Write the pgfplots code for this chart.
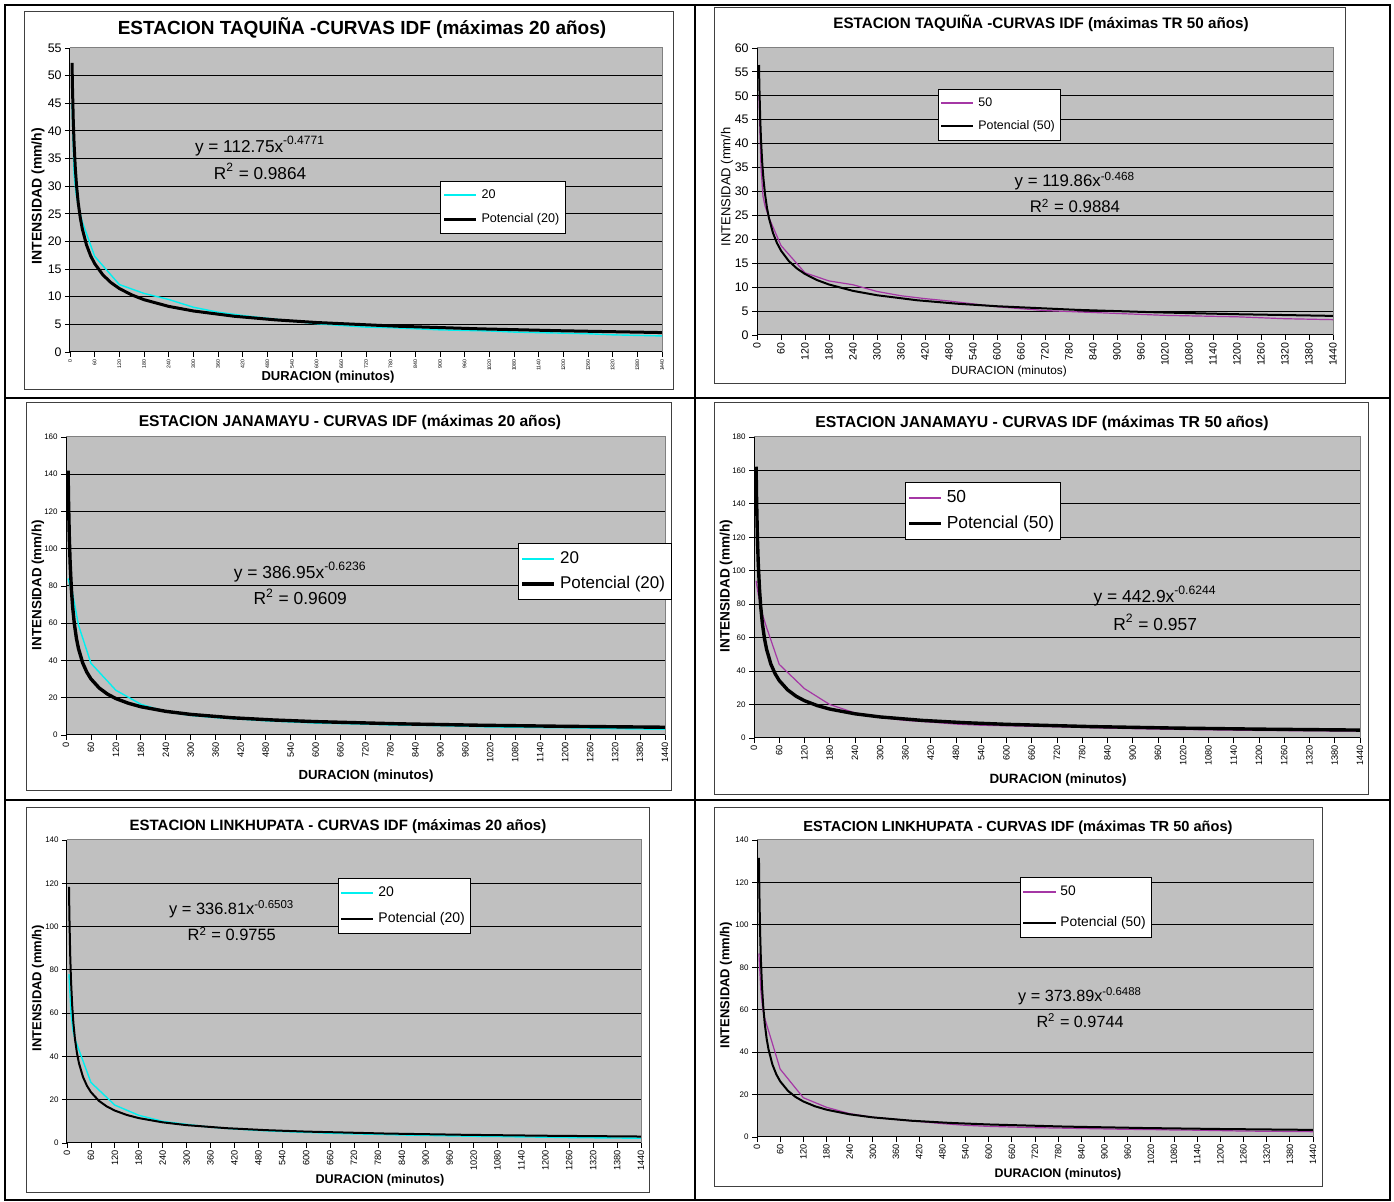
\documentclass[border=0pt]{standalone}
\usepackage{fontspec}
\setmainfont{Liberation Sans}
\usepackage{pgfplots}
\pgfplotsset{compat=1.18}
\definecolor{plotgray}{RGB}{192,192,192}
\definecolor{serieA}{RGB}{0,240,240}
\definecolor{serieB}{RGB}{165,55,165}
\newcommand{\fs}[1]{\fontsize{#1}{#1}\selectfont}
\pgfplotsset{
  idf/.style={
    scale only axis,
    anchor=south west,
    axis background/.style={fill=plotgray},
    axis x line*=bottom, axis y line*=left,
    axis line style={black, line width=0.5pt},
    xmin=0, xmax=1440, ymin=0,
    xtick={0,60,...,1440},
    ymajorgrids, grid style={black, line width=0.5pt},
    tick style={black, line width=0.4pt},
    major tick length=2.5pt,
    tick align=outside,
    /pgf/number format/assume math mode=true,
    /pgf/number format/1000 sep={},
    x tick label style={rotate=90, anchor=east, inner sep=1pt},
    y tick label style={inner sep=1.5pt},
    legend cell align=left,
    legend style={draw=black, fill=white, line width=0.5pt, anchor=north west, inner xsep=1pt, inner ysep=2pt},
    legend image code/.code={\draw[##1] (0pt,0pt) -- (16pt,0pt);},
    clip=false,
  }
}
\begin{document}
\begin{tikzpicture}
\path[use as bounding box] (0,0) rectangle (697pt,601pt);
% table lines
\draw[line width=1pt] (2.5pt,1pt) rectangle (695pt,598.5pt);
\draw[line width=1pt] (347.5pt,1pt) -- (347.5pt,598.5pt);
\draw[line width=1pt] (2.5pt,402pt) -- (695pt,402pt);
\draw[line width=1pt] (2.5pt,201pt) -- (695pt,201pt);
% chart frames
\draw[black!75, line width=0.5pt, fill=white] (12pt,406pt) rectangle (336.5pt,595pt);
\draw[black!75, line width=0.5pt, fill=white] (357pt,409pt) rectangle (672.5pt,597pt);
\draw[black!75, line width=0.5pt, fill=white] (13pt,205.5pt) rectangle (335.5pt,399.5pt);
\draw[black!75, line width=0.5pt, fill=white] (357pt,203.5pt) rectangle (684pt,399.5pt);
\draw[black!75, line width=0.5pt, fill=white] (13pt,4.5pt) rectangle (324.5pt,197pt);
\draw[black!75, line width=0.5pt, fill=white] (357pt,7.5pt) rectangle (661pt,197pt);

%================ Panel 1
\begin{axis}[idf, at={(35pt,425pt)}, width=296pt, height=152pt,
  ymax=55, ytick={0,5,...,55},
  yticklabel style={font=\fs{6.2}},
  xticklabel style={font=\fs{2.6}},
  legend style={at={(0.625,0.5625)}, font=\fs{6.3}, row sep=2pt}]
\addlegendimage{serieA, line width=1pt}
\addlegendentry{20}
\addplot[serieA, line width=0.7pt, forget plot] coordinates {
(5,45) (10,32) (15,28.5) (20,26.5) (30,23.5) (60,17.3) (120,12.2) (180,10.6) (240,9.5) (300,8.1) (360,7.2) (420,6.6) (480,6.1) (540,5.6) (600,5.1) (660,4.8) (720,4.5) (780,4.4) (840,4.2) (900,4.0) (960,3.9) (1020,3.8) (1080,3.6) (1140,3.5) (1200,3.4) (1260,3.3) (1320,3.1) (1380,3.0) (1440,2.9)};
\addplot[black, line width=1.5pt] coordinates {
(5,52.32) (6,47.95) (8,41.81) (10,37.58) (13,33.16) (16,30.04) (20,27.00) (25,24.28) (30,22.25) (40,19.40) (50,17.44) (60,15.99) (80,13.94) (100,12.53) (120,11.48) (150,10.33) (180,9.46) (240,8.25) (300,7.42) (400,6.46) (500,5.81) (600,5.33) (800,4.65) (1000,4.18) (1200,3.83) (1440,3.51)};
\addlegendentry{Potencial (20)}
\draw[gray, line width=0.5pt] (rel axis cs:0,1) -- (rel axis cs:1,1) -- (rel axis cs:1,0);
\node[font=\fs{8.6}] at (rel axis cs:0.321,0.678) {y = 112.75x\textsuperscript{-0.4771}};
\node[font=\fs{8.6}] at (rel axis cs:0.321,0.595) {R\textsuperscript{2} = 0.9864};
\end{axis}
\node[font=\fs{9.5}\bfseries] at (181pt,587pt) {ESTACION TAQUIÑA -CURVAS IDF (máximas 20 años)};
\node[font=\fs{6.5}\bfseries] at (164pt,412.5pt) {DURACION (minutos)};
\node[font=\fs{7}\bfseries, rotate=90] at (19pt,503pt) {INTENSIDAD (mm/h)};

%================ Panel 2
\begin{axis}[idf, at={(378.5pt,433.5pt)}, width=288pt, height=143.5pt,
  ymax=60, ytick={0,5,...,60},
  yticklabel style={font=\fs{6.2}},
  xticklabel style={font=\fs{5.3}},
  legend style={at={(0.314,0.857)}, font=\fs{6.2}, row sep=1.5pt}]
\addlegendimage{serieB, line width=1pt}
\addlegendentry{50}
\addplot[serieB, line width=0.6pt, forget plot] coordinates {
(5,50) (10,35) (15,29) (20,27) (30,24.5) (60,18.7) (120,13.0) (180,11.3) (240,10.5) (300,9.1) (360,8.2) (420,7.6) (480,7.1) (540,6.5) (600,5.9) (660,5.5) (720,5.1) (780,4.9) (840,4.7) (900,4.5) (960,4.3) (1020,4.1) (1080,4.0) (1140,3.9) (1200,3.8) (1260,3.6) (1320,3.4) (1380,3.3) (1440,3.2)};
\addplot[black, line width=1pt] coordinates {
(5,56.44) (6,51.82) (8,45.30) (10,40.80) (13,36.09) (16,32.75) (20,29.50) (25,26.57) (30,24.40) (40,21.32) (50,19.21) (60,17.64) (80,15.41) (100,13.89) (120,12.75) (150,11.48) (180,10.55) (240,9.22) (300,8.31) (400,7.26) (500,6.54) (600,6.01) (800,5.25) (1000,4.73) (1200,4.34) (1440,3.99)};
\addlegendentry{Potencial (50)}
\draw[gray, line width=0.5pt] (rel axis cs:0,1) -- (rel axis cs:1,1) -- (rel axis cs:1,0);
\node[font=\fs{8.4}] at (rel axis cs:0.552,0.537) {y = 119.86x\textsuperscript{-0.468}};
\node[font=\fs{8.4}] at (rel axis cs:0.552,0.449) {R\textsuperscript{2} = 0.9884};
\end{axis}
\node[font=\fs{7.6}\bfseries] at (520.5pt,589.5pt) {ESTACION TAQUIÑA -CURVAS IDF (máximas TR 50 años)};
\node[font=\fs{5.9}] at (504.5pt,415.5pt) {DURACION (minutos)};
\node[font=\fs{6.5}, rotate=90] at (363.5pt,507.5pt) {INTENSIDAD (mm/h};

%================ Panel 3
\begin{axis}[idf, at={(33pt,233.5pt)}, width=299.5pt, height=149pt,
  ymax=160, ytick={0,20,...,160},
  yticklabel style={font=\fs{4}},
  xticklabel style={font=\fs{4.6}},
  legend style={at={(0.755,0.644)}, font=\fs{8.5}, row sep=1pt}]
\addlegendimage{serieA, line width=1pt}
\addlegendentry{20}
\addplot[serieA, line width=0.7pt, forget plot] coordinates {
(5,84) (10,80) (15,77) (20,71) (30,59) (60,38.5) (120,24) (180,16.5) (240,12.5) (300,10.5) (360,9.3) (420,8.5) (480,7.6) (540,7.0) (600,6.4) (660,6.1) (720,5.8) (780,5.4) (840,5.2) (900,5.0) (960,4.7) (1020,4.3) (1080,4.2) (1140,4.0) (1200,3.9) (1260,3.7) (1320,3.4) (1380,3.2) (1440,3.1)};
\addplot[black, line width=1.7pt] coordinates {
(5,141.9) (6,126.6) (8,105.8) (10,92.06) (13,78.16) (16,68.68) (20,59.75) (25,51.97) (30,46.40) (40,38.77) (50,33.74) (60,30.10) (80,25.19) (100,21.90) (120,19.54) (150,17.03) (180,15.17) (240,12.69) (300,11.04) (400,9.23) (500,8.03) (600,7.17) (800,5.99) (1000,5.21) (1200,4.65) (1440,4.15)};
\addlegendentry{Potencial (20)}
\draw[gray, line width=0.5pt] (rel axis cs:0,1) -- (rel axis cs:1,1) -- (rel axis cs:1,0);
\node[font=\fs{8.7}] at (rel axis cs:0.391,0.547) {y = 386.95x\textsuperscript{-0.6236}};
\node[font=\fs{8.7}] at (rel axis cs:0.391,0.463) {R\textsuperscript{2} = 0.9609};
\end{axis}
\node[font=\fs{7.8}\bfseries] at (175pt,390pt) {ESTACION JANAMAYU - CURVAS IDF (máximas 20 años)};
\node[font=\fs{6.6}\bfseries] at (183pt,213pt) {DURACION (minutos)};
\node[font=\fs{6.7}\bfseries, rotate=90] at (19pt,308.5pt) {INTENSIDAD (mm/h)};

%================ Panel 4
\begin{axis}[idf, at={(377pt,232pt)}, width=303pt, height=150.5pt,
  ymax=180, ytick={0,20,...,180},
  yticklabel style={font=\fs{4}},
  xticklabel style={font=\fs{4.6}},
  legend style={at={(0.249,0.850)}, font=\fs{8.7}, row sep=1pt}]
\addlegendimage{serieB, line width=0.8pt}
\addlegendentry{50}
\addplot[serieB, line width=0.6pt, forget plot] coordinates {
(5,94) (10,86) (15,80) (20,74) (30,66) (60,44) (120,29.5) (180,20) (240,15) (300,12.3) (360,10.5) (420,9.5) (480,8.3) (540,7.6) (600,7.3) (660,7.0) (720,6.7) (780,6.3) (840,5.9) (900,5.6) (960,5.3) (1020,5.1) (1080,4.9) (1140,4.7) (1200,4.5) (1260,4.4) (1320,4.3) (1380,4.2) (1440,4.1)};
\addplot[black, line width=1.7pt] coordinates {
(5,162.2) (6,144.7) (8,120.9) (10,105.2) (13,89.28) (16,78.44) (20,68.23) (25,59.33) (30,52.96) (40,44.24) (50,38.50) (60,34.34) (80,28.73) (100,24.97) (120,22.28) (150,19.41) (180,17.29) (240,14.46) (300,12.58) (400,10.51) (500,9.15) (600,8.16) (800,6.82) (1000,5.93) (1200,5.29) (1440,4.72)};
\addlegendentry{Potencial (50)}
\draw[gray, line width=0.5pt] (rel axis cs:0,1) -- (rel axis cs:1,1) -- (rel axis cs:1,0);
\node[font=\fs{8.7}] at (rel axis cs:0.662,0.472) {y = 442.9x\textsuperscript{-0.6244}};
\node[font=\fs{8.7}] at (rel axis cs:0.662,0.385) {R\textsuperscript{2} = 0.957};
\end{axis}
\node[font=\fs{7.9}\bfseries] at (521pt,389.5pt) {ESTACION JANAMAYU - CURVAS IDF (máximas TR 50 años)};
\node[font=\fs{6.7}\bfseries] at (529pt,211pt) {DURACION (minutos)};
\node[font=\fs{6.8}\bfseries, rotate=90] at (363pt,308pt) {INTENSIDAD (mm/h)};

%================ Panel 5
\begin{axis}[idf, at={(33.5pt,29.5pt)}, width=287pt, height=151.5pt,
  ymax=140, ytick={0,20,...,140},
  yticklabel style={font=\fs{4}},
  xticklabel style={font=\fs{4.6}},
  legend style={at={(0.472,0.875)}, font=\fs{7}, row sep=2.5pt}]
\addlegendimage{serieA, line width=1pt}
\addlegendentry{20}
\addplot[serieA, line width=0.7pt, forget plot] coordinates {
(5,78) (10,60) (15,52) (20,48) (30,43) (60,28) (120,17.5) (180,12.8) (240,10.0) (300,8.6) (360,7.3) (420,6.5) (480,5.8) (540,5.3) (600,4.9) (660,4.5) (720,4.2) (780,4.0) (840,3.7) (900,3.5) (960,3.3) (1020,3.1) (1080,3.0) (1140,2.8) (1200,2.7) (1260,2.5) (1320,2.4) (1380,2.3) (1440,2.2)};
\addplot[black, line width=1pt] coordinates {
(5,118.3) (6,105.0) (8,87.11) (10,75.34) (13,63.54) (16,55.52) (20,48.00) (25,41.52) (30,36.87) (40,30.58) (50,26.45) (60,23.50) (80,19.49) (100,16.86) (120,14.97) (150,12.95) (180,11.50) (240,9.54) (300,8.25) (400,6.84) (500,5.92) (600,5.26) (800,4.36) (1000,3.77) (1200,3.35) (1440,2.98)};
\addlegendentry{Potencial (20)}
\draw[gray, line width=0.5pt] (rel axis cs:0,1) -- (rel axis cs:1,1) -- (rel axis cs:1,0);
\node[font=\fs{8.2}] at (rel axis cs:0.287,0.772) {y = 336.81x\textsuperscript{-0.6503}};
\node[font=\fs{8.2}] at (rel axis cs:0.287,0.690) {R\textsuperscript{2} = 0.9755};
\end{axis}
\node[font=\fs{7.5}\bfseries] at (169pt,187.5pt) {ESTACION LINKHUPATA - CURVAS IDF (máximas 20 años)};
\node[font=\fs{6.3}\bfseries] at (190pt,11pt) {DURACION (minutos)};
\node[font=\fs{6.5}\bfseries, rotate=90] at (19pt,107pt) {INTENSIDAD (mm/h)};

%================ Panel 6
\begin{axis}[idf, at={(378.5pt,32.5pt)}, width=278pt, height=148.5pt,
  ymax=140, ytick={0,20,...,140},
  yticklabel style={font=\fs{4}},
  xticklabel style={font=\fs{4.6}},
  legend style={at={(0.473,0.875)}, font=\fs{6.9}, row sep=5pt}]
\addlegendimage{serieB, line width=0.8pt}
\addlegendentry{50}
\addplot[serieB, line width=0.6pt, forget plot] coordinates {
(5,86.5) (10,69) (15,60) (20,56) (30,50) (60,32) (120,18.5) (180,14) (240,11) (300,9.3) (360,8.3) (420,7.3) (480,6.3) (540,5.5) (600,5.0) (660,4.7) (720,4.4) (780,4.2) (840,4.0) (900,3.8) (960,3.6) (1020,3.5) (1080,3.3) (1140,3.2) (1200,3.0) (1260,2.8) (1320,2.7) (1380,2.6) (1440,2.5)};
\addplot[black, line width=1pt] coordinates {
(5,131.6) (6,116.9) (8,97.00) (10,83.93) (13,70.81) (16,61.89) (20,53.52) (25,46.31) (30,41.14) (40,34.13) (50,29.53) (60,26.25) (80,21.78) (100,18.85) (120,16.74) (150,14.48) (180,12.87) (240,10.68) (300,9.24) (400,7.66) (500,6.63) (600,5.90) (800,4.89) (1000,4.23) (1200,3.76) (1440,3.34)};
\addlegendentry{Potencial (50)}
\draw[gray, line width=0.5pt] (rel axis cs:0,1) -- (rel axis cs:1,1) -- (rel axis cs:1,0);
\node[font=\fs{8.1}] at (rel axis cs:0.581,0.475) {y = 373.89x\textsuperscript{-0.6488}};
\node[font=\fs{8.1}] at (rel axis cs:0.581,0.391) {R\textsuperscript{2} = 0.9744};
\end{axis}
\node[font=\fs{7.3}\bfseries] at (509pt,187pt) {ESTACION LINKHUPATA - CURVAS IDF (máximas TR 50 años)};
\node[font=\fs{6.2}\bfseries] at (529pt,14pt) {DURACION (minutos)};
\node[font=\fs{6.5}\bfseries, rotate=90] at (363pt,108.5pt) {INTENSIDAD (mm/h)};
\end{tikzpicture}
\end{document}
